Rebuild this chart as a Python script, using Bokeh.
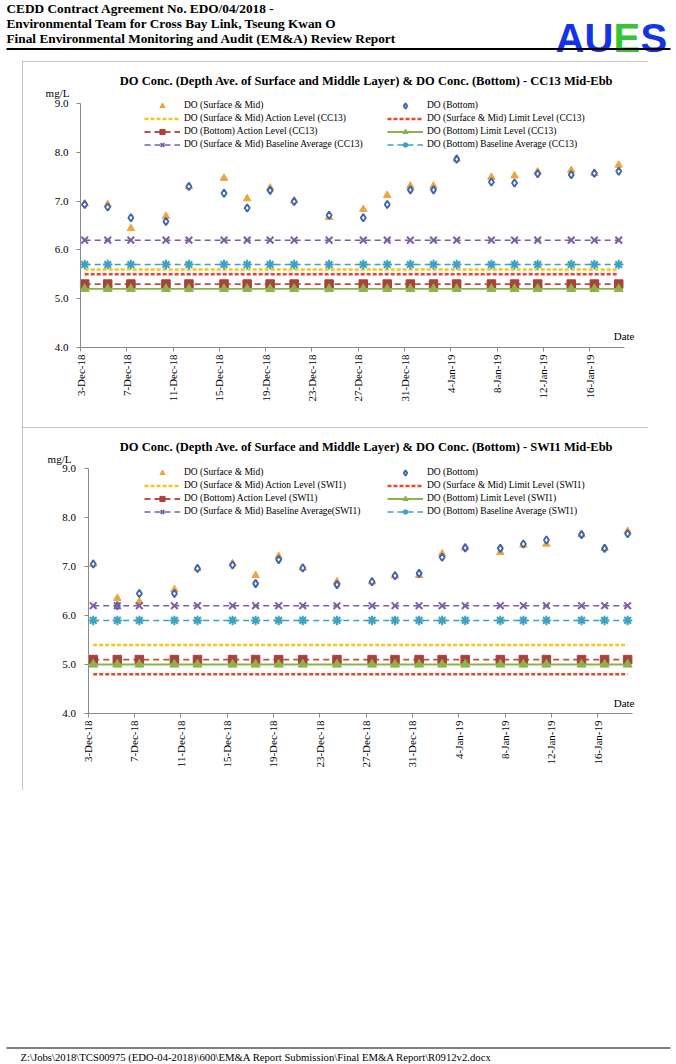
import pandas as pd
from bokeh.plotting import figure
from bokeh.models import Range1d, FixedTicker, PrintfTickFormatter, Label, Legend, LegendItem, Spacer
from bokeh.layouts import column, row
from bokeh.embed import file_html
from bokeh.resources import INLINE
from bokeh.core.properties import value

SERIF = "Liberation Serif"

# ---------------- data ----------------
header_lines = [
    "CEDD Contract Agreement No. EDO/04/2018 -",
    "Environmental Team for Cross Bay Link, Tseung Kwan O",
    "Final Environmental Monitoring and Audit (EM&A) Review Report",
]
footer_text = r"Z:\Jobs\2018\TCS00975 (EDO-04-2018)\600\EM&A Report Submission\Final EM&A Report\R0912v2.docx"

axis_start = "2018-12-03"
axis_end = "2019-01-19"
tick_labels = ["3-Dec-18", "7-Dec-18", "11-Dec-18", "15-Dec-18", "19-Dec-18", "23-Dec-18",
               "27-Dec-18", "31-Dec-18", "4-Jan-19", "8-Jan-19", "12-Jan-19", "16-Jan-19"]
y_ticks = [4.0, 5.0, 6.0, 7.0, 8.0, 9.0]
y_min, y_max = 4.0, 9.0

cc13_title = "DO Conc. (Depth Ave. of Surface and Middle Layer) & DO Conc. (Bottom) - CC13 Mid-Ebb"
cc13_times = ["2018-12-03 08:40", "2018-12-05 08:25", "2018-12-07 08:25", "2018-12-10 09:10",
              "2018-12-12 08:50", "2018-12-15 09:35", "2018-12-17 09:35", "2018-12-19 09:10",
              "2018-12-21 11:00", "2018-12-24 11:30", "2018-12-27 10:20", "2018-12-29 12:00",
              "2018-12-31 12:00", "2019-01-02 12:00", "2019-01-04 12:00", "2019-01-07 12:00",
              "2019-01-09 12:00", "2019-01-11 12:00", "2019-01-14 09:35", "2019-01-16 09:35",
              "2019-01-18 12:00"]
cc13_surface = [6.95, 6.93, 6.44, 6.69, 7.30, 7.47, 7.05, 7.27, 7.01, 6.67, 6.83,
                7.12, 7.31, 7.31, 7.86, 7.49, 7.52, 7.60, 7.63, 7.57, 7.74]
cc13_bottom = [6.93, 6.88, 6.66, 6.58, 7.30, 7.16, 6.86, 7.22, 6.99, 6.71, 6.66,
               6.93, 7.23, 7.23, 7.86, 7.39, 7.37, 7.56, 7.54, 7.57, 7.61]
cc13_action_surface = 5.6
cc13_limit_surface = 5.5
cc13_action_bottom = 5.3
cc13_limit_bottom = 5.2
cc13_baseline_surface = 6.2
cc13_baseline_bottom = 5.7
cc13_labels = ["DO (Surface & Mid)", "DO (Bottom)",
               "DO (Surface & Mid) Action Level (CC13)", "DO (Surface & Mid) Limit Level (CC13)",
               "DO (Bottom) Action Level (CC13)", "DO (Bottom) Limit Level (CC13)",
               "DO (Surface & Mid) Baseline Average (CC13)", "DO (Bottom) Baseline Average (CC13)"]

swi1_title = "DO Conc. (Depth Ave. of Surface and Middle Layer) & DO Conc. (Bottom) - SWI1 Mid-Ebb"
swi1_times = ["2018-12-03 10:50", "2018-12-05 12:45", "2018-12-07 10:20", "2018-12-10 11:00",
              "2018-12-12 10:50", "2018-12-15 11:30", "2018-12-17 11:15", "2018-12-19 11:00",
              "2018-12-21 12:55", "2018-12-24 11:45", "2018-12-27 12:30", "2018-12-29 12:00",
              "2018-12-31 13:55", "2019-01-02 13:40", "2019-01-04 13:25", "2019-01-07 14:10",
              "2019-01-09 13:55", "2019-01-11 13:40", "2019-01-14 14:25", "2019-01-16 14:10",
              "2019-01-18 13:55"]
swi1_surface = [7.05, 6.35, 6.28, 6.53, 6.96, 7.06, 6.82, 7.21, 6.97, 6.69, 6.69,
                6.81, 6.82, 7.26, 7.38, 7.29, 7.44, 7.46, 7.65, 7.37, 7.72]
swi1_bottom = [7.05, 6.20, 6.45, 6.45, 6.96, 7.03, 6.65, 7.14, 6.97, 6.63, 6.69,
               6.81, 6.86, 7.19, 7.38, 7.37, 7.46, 7.54, 7.65, 7.37, 7.67]
swi1_action_surface = 5.4
swi1_limit_surface = 4.8
swi1_action_bottom = 5.1
swi1_limit_bottom = 5.0
swi1_baseline_surface = 6.2
swi1_baseline_bottom = 5.9
swi1_labels = ["DO (Surface & Mid)", "DO (Bottom)",
               "DO (Surface & Mid) Action Level (SWI1)", "DO (Surface & Mid) Limit Level (SWI1)",
               "DO (Bottom) Action Level (SWI1)", "DO (Bottom) Limit Level (SWI1)",
               "DO (Surface & Mid) Baseline Average(SWI1)", "DO (Bottom) Baseline Average (SWI1)"]

# ---------------- helpers ----------------
base = pd.Timestamp(axis_start)
span_days = (pd.Timestamp(axis_end) - base) / pd.Timedelta(days=1)
tick_pos = [int((pd.to_datetime(t, format="%d-%b-%y") - base) / pd.Timedelta(days=1)) for t in tick_labels]


def day_offsets(times):
    return [float((pd.Timestamp(t) - base) / pd.Timedelta(days=1)) for t in times]


ORANGE = "#F2A33F"
BLUE = "#3E66AF"
YELLOW = "#F7C31E"
RED = "#E6482C"
BROWN = "#A8423A"
BROWN_LINE = "#BE4F47"
GREEN = "#8DB34B"
PURPLE = "#7C5FA2"
TEAL = "#3DA2C1"
AXIS_GREY = "#8A8A8A"

FIG_LEFT, FIG_RIGHT = 22, 648


def build_chart(title, times, surface, bottom, levels, labels, g):
    x = day_offsets(times)
    fl, fr, ft, fb = g["fl"], g["fr"], g["ft"], g["fb"]
    top, h = g["top"], g["h"]
    ppd = (fr - fl) / span_days
    ppu = (fb - ft) / (y_max - y_min)

    def to_data(px, py):
        return (px - fl) / ppd, y_max - (py - ft) / ppu

    xr = Range1d((FIG_LEFT - fl) / ppd, (FIG_RIGHT - fl) / ppd)
    yr = Range1d(y_min - (top + h - fb) / ppu, y_max + (ft - top) / ppu)
    p = figure(width=FIG_RIGHT - FIG_LEFT, height=h, x_range=xr, y_range=yr,
               output_backend="svg", toolbar_location=None, min_border=0,
               outline_line_color=None, background_fill_color="white", border_fill_color="white")
    p.styles = {"outline": "1px solid #8c8c8c", "outline-offset": "-1px"}
    p.grid.visible = False

    ax = p.xaxis[0]
    ax.fixed_location = y_min
    ax.bounds = (0, span_days)
    ax.ticker = FixedTicker(ticks=tick_pos)
    ax.major_label_overrides = {t: lab for t, lab in zip(tick_pos, tick_labels)}
    ax.major_label_orientation = 1.5707963
    ax.major_label_text_font = SERIF
    ax.major_label_text_font_size = "11px"
    ax.major_label_text_color = "black"
    ax.major_label_standoff = 3
    ax.axis_line_color = AXIS_GREY
    ax.major_tick_line_color = AXIS_GREY
    ax.major_tick_out = 4
    ax.major_tick_in = 0
    ax.minor_tick_line_color = None

    ay = p.yaxis[0]
    ay.fixed_location = 0
    ay.bounds = (y_min, y_max)
    ay.ticker = FixedTicker(ticks=y_ticks)
    ay.formatter = PrintfTickFormatter(format="%.1f")
    ay.major_label_text_font = SERIF
    ay.major_label_text_font_size = "11px"
    ay.major_label_text_color = "black"
    ay.major_label_standoff = 8
    ay.axis_line_color = AXIS_GREY
    ay.major_tick_line_color = AXIS_GREY
    ay.major_tick_out = 4
    ay.major_tick_in = 0
    ay.minor_tick_line_color = None

    r_s = p.scatter(x, surface, marker="triangle", size=7.5, fill_color=ORANGE, line_color=ORANGE)
    r_b = p.scatter(x, bottom, marker="diamond", size=7.5, fill_color="white",
                    line_color=BLUE, line_width=1.9)

    specs = [
        (levels[0], YELLOW, "4 2", 2.5, None, 0, None),
        (levels[1], RED, "4 2", 2.5, None, 0, None),
        (levels[2], BROWN_LINE, "6 4", 1.8, "square", 8.5, BROWN),
        (levels[3], GREEN, "solid", 1.8, "triangle", 9, GREEN),
        (levels[4], PURPLE, "6 4", 1.5, "x", 9.5, PURPLE),
        (levels[5], TEAL, "6 4", 1.5, "asterisk", 9.5, TEAL),
    ]
    level_r = []
    for val, col, dash, lw, mk, ms, mcol in specs:
        ys = [val] * len(x)
        rs = [p.line(x, ys, line_color=col, line_dash=dash, line_width=lw)]
        if mk:
            rs.append(p.scatter(x, ys, marker=mk, size=ms, fill_color=mcol, line_color=mcol,
                                line_width=2 if mk in ("x", "asterisk") else 1))
        level_r.append(rs)

    common = dict(orientation="vertical", padding=0, margin=0, spacing=0,
                  glyph_width=36, glyph_height=13, label_height=13, label_standoff=4,
                  label_text_font=SERIF, label_text_font_size="9.5px", label_text_color="black",
                  border_line_color=None, background_fill_alpha=0)
    leg_bottom = (top + h) - (g["leg_top"] + 52)
    left_items = [LegendItem(label=labels[0], renderers=[r_s]),
                  LegendItem(label=labels[2], renderers=level_r[0]),
                  LegendItem(label=labels[4], renderers=level_r[2]),
                  LegendItem(label=labels[6], renderers=level_r[4])]
    right_items = [LegendItem(label=labels[1], renderers=[r_b]),
                   LegendItem(label=labels[3], renderers=level_r[1]),
                   LegendItem(label=labels[5], renderers=level_r[3]),
                   LegendItem(label=labels[7], renderers=level_r[5])]
    p.add_layout(Legend(items=left_items, location=(144 - FIG_LEFT, leg_bottom), **common))
    p.add_layout(Legend(items=right_items, location=(387 - FIG_LEFT, leg_bottom), **common))

    tx, ty = to_data(366, g["title_y"])
    p.add_layout(Label(x=tx, y=ty, text=title, text_align="center", text_baseline="middle",
                       text_font=SERIF, text_font_size="12.5px", text_font_style="bold", text_color="black"))
    mx, my = to_data(g["mg_x"], g["mg_y"])
    p.add_layout(Label(x=mx, y=my, text="mg/L", text_align="center", text_baseline="middle",
                       text_font=SERIF, text_font_size="11px", text_color="black"))
    dx_, dy_ = to_data(634, g["date_y"])
    p.add_layout(Label(x=dx_, y=dy_, text="Date", text_align="right", text_baseline="middle",
                       text_font=SERIF, text_font_size="11px", text_color="black"))
    return p


# ---------------- header ----------------
hdr = figure(width=676, height=61, x_range=Range1d(0, 676), y_range=Range1d(61, 0),
             x_axis_type=None, y_axis_type=None, output_backend="svg", toolbar_location=None,
             min_border=0, outline_line_color=None)
hdr.grid.visible = False
hdr.text(x=[6, 6, 6], y=[8, 23, 37.5], text=header_lines, text_font=value(SERIF),
         text_font_size="13.3px", text_font_style="bold", text_baseline="middle", text_color="black")
hdr.text(x=[555, 613, 640], y=[37, 37, 37], text=["AU", "E", "S"],
         text_color=["#1432E6", "#35C435", "#1432E6"], text_font=value("Liberation Sans"),
         text_font_size="40px", text_font_style="bold", text_baseline="alphabetic")
hdr.line(x=[6, 670], y=[48.5, 48.5], line_color="black", line_width=2)

# ---------------- charts ----------------
g1 = dict(top=61, h=366, fl=80, fr=624, ft=103, fb=347, title_y=80, mg_x=57, mg_y=92, date_y=335, leg_top=98.5)
g2 = dict(top=427, h=363, fl=87.5, fr=632, ft=468, fb=713, title_y=446, mg_x=59, mg_y=458, date_y=702, leg_top=465.5)

c1 = build_chart(cc13_title, cc13_times, cc13_surface, cc13_bottom,
                 [cc13_action_surface, cc13_limit_surface, cc13_action_bottom, cc13_limit_bottom,
                  cc13_baseline_surface, cc13_baseline_bottom], cc13_labels, g1)
c2 = build_chart(swi1_title, swi1_times, swi1_surface, swi1_bottom,
                 [swi1_action_surface, swi1_limit_surface, swi1_action_bottom, swi1_limit_bottom,
                  swi1_baseline_surface, swi1_baseline_bottom], swi1_labels, g2)

# ---------------- footer ----------------
ftr = figure(width=676, height=274, x_range=Range1d(0, 676), y_range=Range1d(1064, 790),
             x_axis_type=None, y_axis_type=None, output_backend="svg", toolbar_location=None,
             min_border=0, outline_line_color=None)
ftr.grid.visible = False
ftr.line(x=[6, 670], y=[1047.5, 1047.5], line_color="black", line_width=1)
ftr.text(x=[20], y=[1056], text=[footer_text], text_font=value(SERIF), text_font_size="10.7px",
         text_baseline="middle", text_color="black")

layout = column(hdr, row(Spacer(width=FIG_LEFT, height=366), c1), row(Spacer(width=FIG_LEFT, height=363), c2), ftr,
                spacing=0)

open("out.html", "w").write(file_html(layout, INLINE))
